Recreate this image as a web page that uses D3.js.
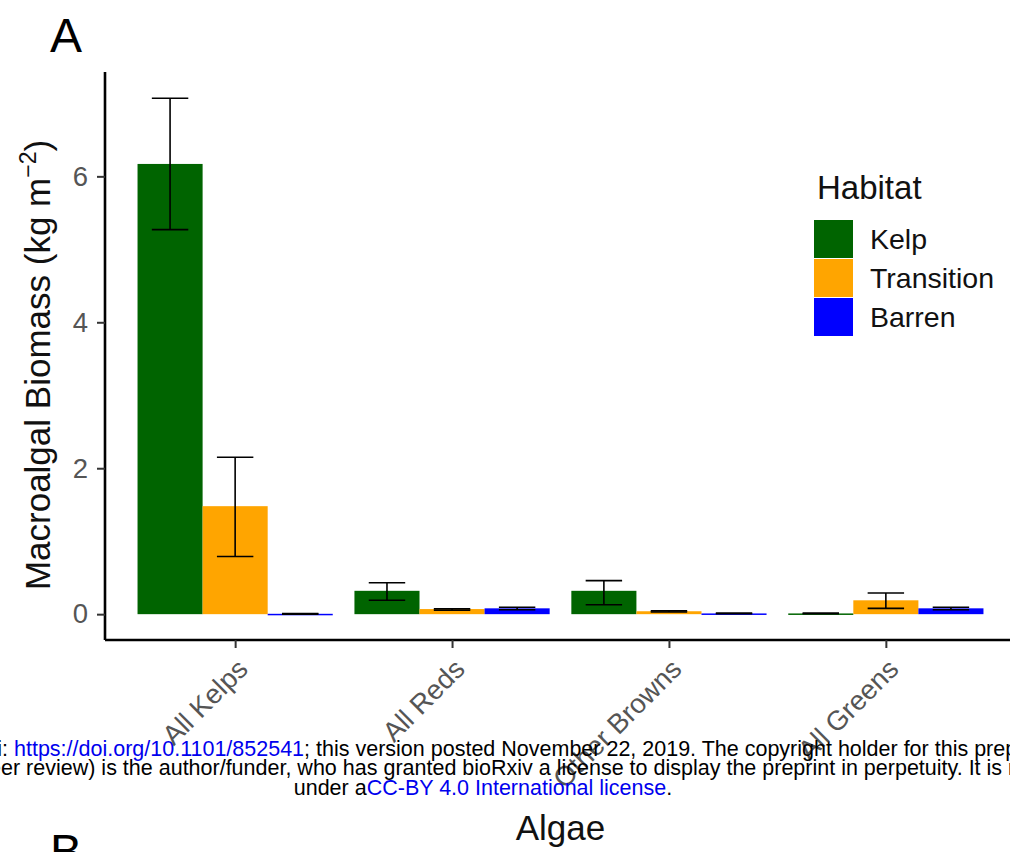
<!DOCTYPE html>
<html>
<head>
<meta charset="utf-8">
<script src="https://cdn.jsdelivr.net/npm/d3@7"></script>
<style>
  html, body { margin: 0; padding: 0; background: #fff; }
  svg { display: block; font-family: "Liberation Sans", Arial, Helvetica, sans-serif; }
</style>
</head>
<body>
<svg id="chart" width="1010" height="852"></svg>
<script>
// ---- data ----
const categories = ["All Kelps", "All Reds", "Other Browns", "All Greens"];
const habitats = ["Kelp", "Transition", "Barren"];
const kelpMean = [6.17, 0.32, 0.32, 0.01];
const kelpLow  = [5.27, 0.19, 0.13, 0.005];
const kelpHigh = [7.07, 0.43, 0.46, 0.015];
const transMean = [1.48, 0.07, 0.04, 0.19];
const transLow  = [0.79, 0.055, 0.03, 0.08];
const transHigh = [2.15, 0.075, 0.045, 0.29];
const barrenMean = [0.005, 0.08, 0.01, 0.08];
const barrenLow  = [0.0, 0.06, 0.005, 0.06];
const barrenHigh = [0.01, 0.095, 0.015, 0.095];
const yTicks = [0, 2, 4, 6];
const colors = ["#006400", "#FFA500", "#0000FF"];
const legendTitle = "Habitat";
const xTitle = "Algae";
const yTitle = "Macroalgal Biomass (kg m";

const series = [
  {name: "Kelp", mean: kelpMean, low: kelpLow, high: kelpHigh},
  {name: "Transition", mean: transMean, low: transLow, high: transHigh},
  {name: "Barren", mean: barrenMean, low: barrenLow, high: barrenHigh}
];
const rows = [];
categories.forEach((c, i) => series.forEach(s => rows.push({cat: c, hab: s.name, mean: s.mean[i], low: s.low[i], high: s.high[i]})));

const svg = d3.select("#chart");
const pLeft = 105, pRight = 1016, pTop = 72, pBottom = 640;

const x = d3.scalePoint().domain(categories).range([pLeft, pRight]).padding(0.6);
const step = x.step();
const xSub = d3.scaleBand().domain(habitats).range([-0.45 * step, 0.45 * step]).padding(0);
const y = d3.scaleLinear().domain([-0.354, 7.43]).range([pBottom, pTop]);
const color = d3.scaleOrdinal().domain(habitats).range(colors);

// bars
svg.append("g").selectAll("rect").data(rows).join("rect")
  .attr("x", d => x(d.cat) + xSub(d.hab))
  .attr("width", xSub.bandwidth())
  .attr("y", d => Math.min(y(d.mean), y(0)))
  .attr("height", d => Math.max(Math.abs(y(0) - y(d.mean)), 1.5))
  .attr("fill", d => color(d.hab));

// error bars
const capW = xSub.bandwidth() * 0.56;
const eb = svg.append("g").attr("stroke", "#000").attr("stroke-width", 1.6).attr("fill", "none");
rows.forEach(d => {
  const cx = x(d.cat) + xSub(d.hab) + xSub.bandwidth() / 2;
  eb.append("line").attr("x1", cx).attr("x2", cx).attr("y1", y(d.low)).attr("y2", y(d.high));
  eb.append("line").attr("x1", cx - capW / 2).attr("x2", cx + capW / 2).attr("y1", y(d.low)).attr("y2", y(d.low));
  eb.append("line").attr("x1", cx - capW / 2).attr("x2", cx + capW / 2).attr("y1", y(d.high)).attr("y2", y(d.high));
});

// y axis
const yAxis = svg.append("g").attr("transform", `translate(${pLeft},0)`)
  .call(d3.axisLeft(y).tickValues(yTicks).tickSize(8).tickPadding(9).tickFormat(d3.format("d")));
yAxis.select(".domain").attr("d", `M0,${pTop}V${pBottom}`).attr("stroke", "#000").attr("stroke-width", 2.6);
yAxis.selectAll(".tick line").attr("stroke", "#333").attr("stroke-width", 2);
yAxis.selectAll(".tick text").attr("font-size", 27.5).attr("fill", "#555").attr("font-family", "Liberation Sans, Arial, sans-serif");

// x axis
const xAxis = svg.append("g").attr("transform", `translate(0,${pBottom})`)
  .call(d3.axisBottom(x).tickSize(8).tickSizeOuter(0));
xAxis.select(".domain").attr("d", `M${pLeft},0H${pRight}`).attr("stroke", "#000").attr("stroke-width", 2.6);
xAxis.selectAll(".tick line").attr("stroke", "#333").attr("stroke-width", 2);
xAxis.selectAll(".tick text")
  .attr("font-size", 27.5).attr("fill", "#555").attr("font-family", "Liberation Sans, Arial, sans-serif")
  .attr("text-anchor", "end")
  .attr("transform", "translate(0,17) rotate(-45)")
  .attr("x", 0).attr("y", 0).attr("dy", "0.71em");

// y title
const yt = svg.append("text")
  .attr("transform", "translate(50,365) rotate(-90)")
  .attr("text-anchor", "middle")
  .attr("font-size", 35).attr("fill", "#111");
yt.append("tspan").text(yTitle);
yt.append("tspan").attr("font-size", 23).attr("dy", -14).text("−2");
yt.append("tspan").attr("dy", 14).text(")");

// x title
svg.append("text").attr("x", (pLeft + pRight) / 2).attr("y", 840).attr("text-anchor", "middle")
  .attr("font-size", 35).attr("fill", "#111").text(xTitle);

// panel labels
svg.append("text").attr("x", 50).attr("y", 52).attr("font-size", 48).attr("fill", "#000").text("A");
svg.append("text").attr("x", 50).attr("y", 868).attr("font-size", 48).attr("fill", "#000").text("B");

// legend
const lg = svg.append("g").attr("transform", "translate(814,199)");
lg.append("text").attr("x", 3).attr("y", 0).attr("font-size", 33).attr("fill", "#111").text(legendTitle);
const keys = lg.selectAll("g.key").data(habitats).join("g").attr("class", "key")
  .attr("transform", (d, i) => `translate(0,${21 + i * 39})`);
keys.append("rect").attr("width", 39).attr("height", 38).attr("fill", d => color(d));
keys.append("text").attr("x", 56).attr("y", 19).attr("dy", "0.35em").attr("font-size", 28.5).attr("fill", "#111").text(d => d);

// bioRxiv watermark
const wm = svg.append("g").attr("font-size", 21.5).attr("fill", "#000");
const l1 = wm.append("text").attr("y", 756);
const p1 = l1.append("tspan").text("bioRxiv preprint doi: ");
l1.append("tspan").attr("fill", "#0000ee").text("https://doi.org/10.1101/852541");
l1.append("tspan").text("; this version posted November 22, 2019. The copyright holder for this preprint (which was not");
l1.attr("x", 14 - p1.node().getComputedTextLength());
const l2 = wm.append("text").attr("y", 775);
const p2 = l2.append("tspan").text("certified by pe");
l2.append("tspan").text("er review) is the author/funder, who has granted bioRxiv a license to display the preprint in perpetuity. It is made available");
l2.attr("x", 1 - p2.node().getComputedTextLength());
const l3 = wm.append("text").attr("y", 795).attr("x", 483).attr("text-anchor", "middle");
l3.append("tspan").text("under a");
l3.append("tspan").attr("fill", "#0000ee").text("CC-BY 4.0 International license");
l3.append("tspan").text(".");
</script>
</body>
</html>
